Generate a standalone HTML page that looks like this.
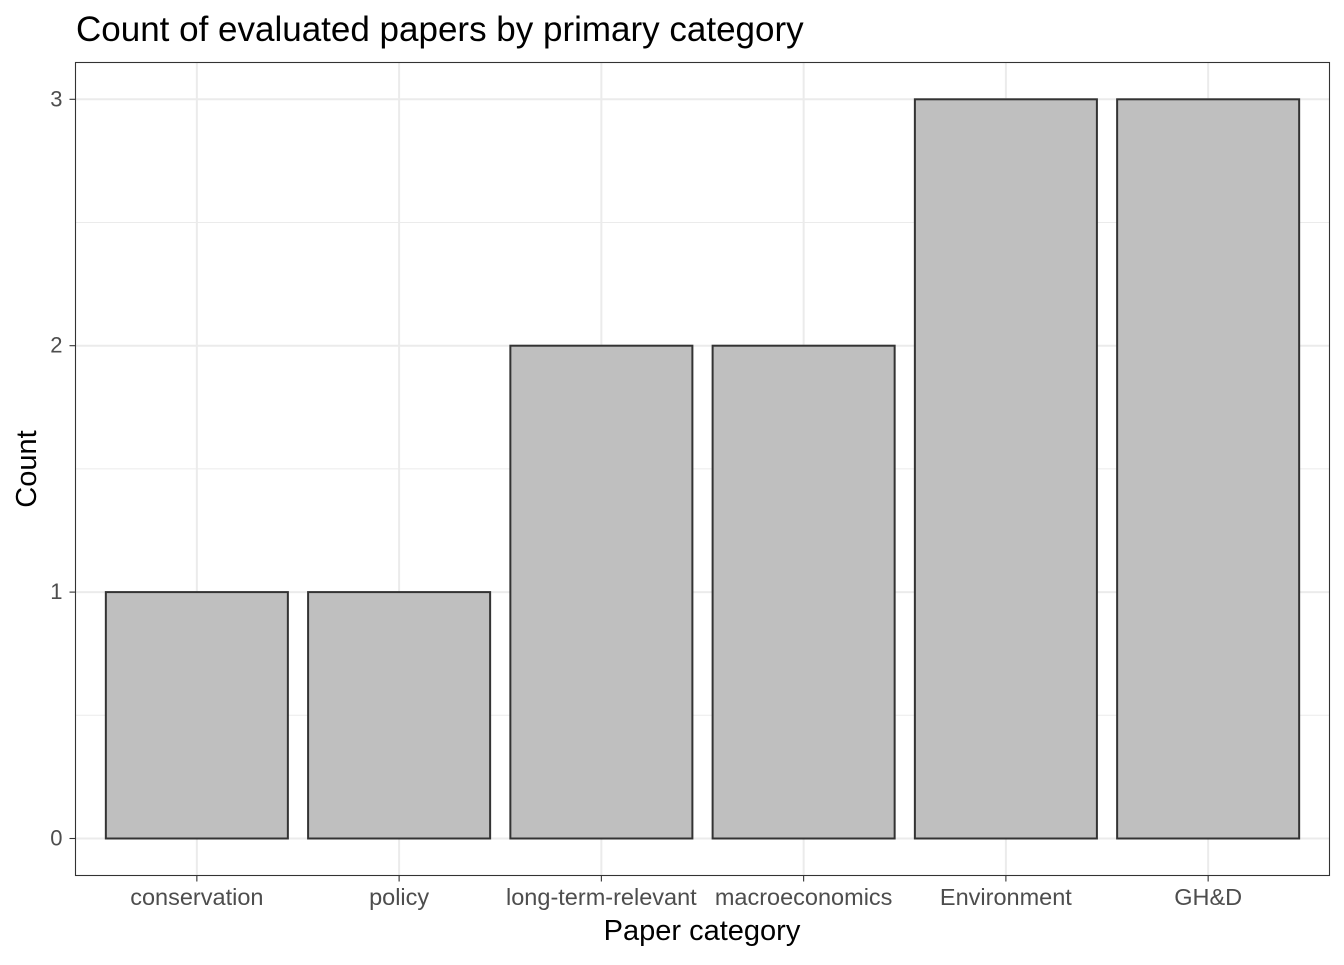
<!DOCTYPE html>
<html><head><meta charset="utf-8"><style>
body{margin:0;background:#fff;font-family:"Liberation Sans",Arial,sans-serif;}
</style></head><body>
<svg id="chart" width="1344" height="960" xmlns="http://www.w3.org/2000/svg">
<text x="76" y="41" font-size="35" fill="#000">Count of evaluated papers by primary category</text>
<g id="grid"></g>
<g id="bars"></g>
<rect x="75.5" y="62.5" width="1254" height="813" fill="none" stroke="#333" stroke-width="1.1"/>
<g id="axes"></g>
<text x="702" y="940" font-size="29" text-anchor="middle" fill="#000">Paper category</text>
<text transform="translate(36,469) rotate(-90)" font-size="29" text-anchor="middle" fill="#000">Count</text>
</svg>
<script>
const categories=["conservation","policy","long-term-relevant","macroeconomics","Environment","GH&D"];
const counts=[1,1,2,2,3,3];
const yTicks=[0,1,2,3];
const NS="http://www.w3.org/2000/svg";
const L=75.5,R=1329.5,T=62.5,B=875.5;
const y0=838.5,unit=246.4;
const step=(R-L)/(categories.length-1+1.2);
function xc(i){return L+step*(i+0.6);}
function ys(v){return y0-v*unit;}
function mk(tag,attrs,parent){const e=document.createElementNS(NS,tag);for(const k in attrs)e.setAttribute(k,attrs[k]);document.getElementById(parent).appendChild(e);return e;}
for(let i=0;i<yTicks.length-1;i++){const v=(yTicks[i]+yTicks[i+1])/2;
const g=mk("line",{x1:L,x2:R,y1:ys(v),y2:ys(v),stroke:"#ebebeb","stroke-width":1},"grid");

}
yTicks.forEach(v=>{const g=mk("line",{x1:L,x2:R,y1:ys(v),y2:ys(v),stroke:"#ebebeb","stroke-width":2},"grid");


const tk=mk("line",{x1:L-6,x2:L,y1:ys(v),y2:ys(v),stroke:"#333","stroke-width":1.1},"axes");


const t=mk("text",{x:L-13,y:ys(v)+7,"font-size":22,"text-anchor":"end",fill:"#4d4d4d"},"axes");t.textContent=v;

});
categories.forEach((c,i)=>{const x=xc(i);
const g=mk("line",{x1:x,x2:x,y1:T,y2:B,stroke:"#ebebeb","stroke-width":2},"grid");


const w=step*0.9;
const b=mk("rect",{x:x-w/2,y:ys(counts[i]),width:w,height:ys(0)-ys(counts[i]),fill:"#bfbfbf",stroke:"#333","stroke-width":2},"bars");


const tk=mk("line",{x1:x,x2:x,y1:B,y2:B+6,stroke:"#333","stroke-width":1.1},"axes");


const t=mk("text",{x:x,y:905,"font-size":23.5,"text-anchor":"middle",fill:"#4d4d4d"},"axes");t.textContent=c;

});
</script>
</body></html>
